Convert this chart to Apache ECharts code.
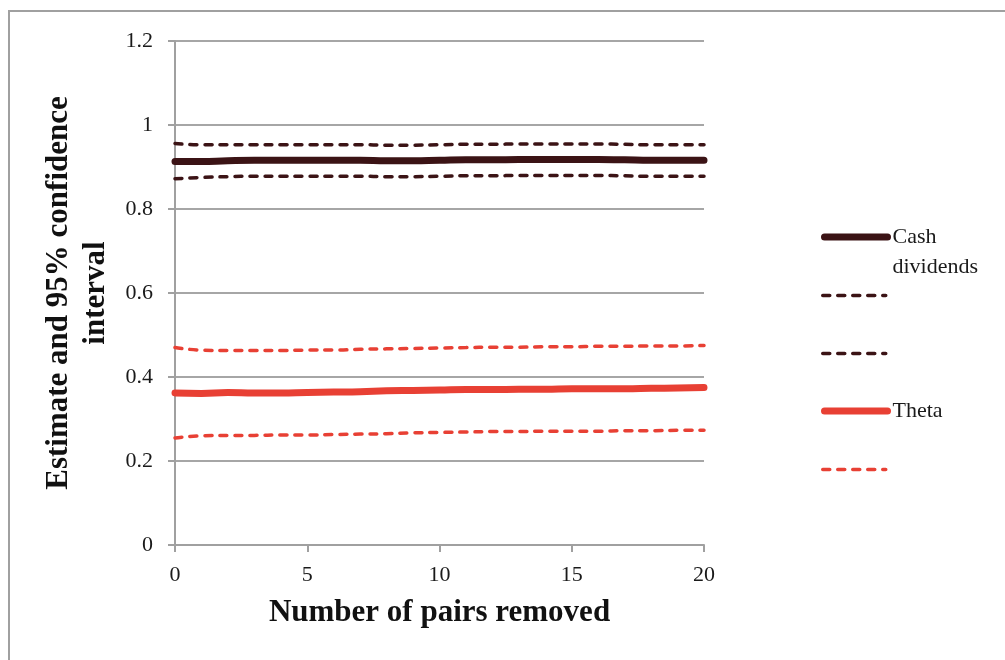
<!DOCTYPE html>
<html>
<head>
<meta charset="utf-8">
<script src="https://cdn.jsdelivr.net/npm/echarts@6/dist/echarts.min.js"></script>
<style>
  html, body { margin: 0; padding: 0; background: #fff; }
  #wrap { position: relative; width: 1005px; height: 660px; overflow: hidden; }
  #frame { position: absolute; left: 8px; top: 10px; width: 1100px; height: 800px;
           border-left: 2px solid #a0a0a0; border-top: 2px solid #a0a0a0; }
  #chart { position: absolute; left: 0; top: 0; width: 1005px; height: 660px; }
</style>
</head>
<body>
<div id="wrap">
  <div id="frame"></div>
  <div id="chart"></div>
</div>
<script>
// number of pairs removed
const pairs = [0, 1, 2, 3, 4, 5, 6, 7, 8, 9, 10, 11, 12, 13, 14, 15, 16, 17, 18, 19, 20];

// cash dividends: estimate and 95% CI
const cashEst   = [0.913, 0.913, 0.915, 0.916, 0.916, 0.916, 0.916, 0.916, 0.915, 0.915, 0.916, 0.917, 0.917, 0.918, 0.918, 0.918, 0.918, 0.917, 0.916, 0.916, 0.916];
const cashUpper = [0.956, 0.953, 0.953, 0.953, 0.953, 0.953, 0.953, 0.953, 0.952, 0.952, 0.953, 0.954, 0.954, 0.955, 0.955, 0.955, 0.955, 0.954, 0.953, 0.953, 0.953];
const cashLower = [0.872, 0.875, 0.877, 0.878, 0.878, 0.878, 0.878, 0.878, 0.877, 0.877, 0.878, 0.879, 0.879, 0.880, 0.880, 0.880, 0.880, 0.879, 0.878, 0.878, 0.878];

// theta: estimate and 95% CI
const thetaEst   = [0.362, 0.361, 0.363, 0.362, 0.362, 0.363, 0.364, 0.365, 0.367, 0.368, 0.369, 0.370, 0.370, 0.371, 0.371, 0.372, 0.372, 0.372, 0.373, 0.374, 0.375];
const thetaUpper = [0.470, 0.464, 0.463, 0.463, 0.463, 0.464, 0.464, 0.466, 0.467, 0.468, 0.469, 0.470, 0.471, 0.471, 0.472, 0.472, 0.473, 0.473, 0.474, 0.474, 0.475];
const thetaLower = [0.255, 0.260, 0.261, 0.261, 0.262, 0.262, 0.263, 0.264, 0.265, 0.267, 0.268, 0.269, 0.270, 0.270, 0.271, 0.271, 0.271, 0.272, 0.272, 0.273, 0.273];

const yTicks = [0, 0.2, 0.4, 0.6, 0.8, 1, 1.2];
const xTicks = [0, 5, 10, 15, 20];

// legend labels (dashed entries have no text); blank first line keeps "Cash" level with its icon
const legendLabels = {
  'Cash dividends': '\u00a0\nCash\ndividends',
  'Cash upper': '',
  'Cash lower': '',
  'Theta': 'Theta',
  'Theta upper': ''
};

const dark = '#3b1315';
const red = '#e84034';
const font = '"Liberation Serif", "DejaVu Serif", serif';

const chart = echarts.init(document.getElementById('chart'));

function pts(arr) {
  return arr.map((v, i) => [pairs[i], v]);
}

function line(name, data, color, solid) {
  return {
    name: name,
    type: 'line',
    data: pts(data),
    smooth: true,
    symbol: 'none',
    silent: true,
    lineStyle: solid
      ? { color: color, width: 7, cap: 'round' }
      : { color: color, width: 3.5, type: [7, 8], cap: 'round' },
    itemStyle: { color: color }
  };
}

function legendAt(name, top, solid, color, extraText) {
  return {
    data: [name],
    left: 821,
    top: top,
    padding: 0,
    itemWidth: 63,
    itemHeight: 14,
    selectedMode: false,
    formatter: n => legendLabels[n],
    itemStyle: { opacity: 0 },
    lineStyle: solid
      ? { color: color, width: 7, cap: 'round', type: 'solid' }
      : { color: color, width: 3.5, cap: 'round', type: [7, 8] },
    textStyle: Object.assign({ fontFamily: font, fontSize: 22, color: '#1a1a1a', lineHeight: 22 }, extraText || {})
  };
}

const option = {
  animation: false,
  grid: { left: 175, right: 301, top: 41, bottom: 115, containLabel: false },
  xAxis: {
    type: 'value',
    min: 0,
    max: 20,
    interval: 5,
    name: 'Number of pairs removed',
    nameLocation: 'middle',
    nameGap: 52,
    nameTextStyle: { fontFamily: font, fontSize: 31, fontWeight: 'bold', color: '#111' },
    axisLine: { show: true, lineStyle: { color: '#a0a0a0', width: 2 } },
    axisTick: { show: true, length: 7, lineStyle: { color: '#a0a0a0', width: 2 } },
    axisLabel: { margin: 19, fontFamily: font, fontSize: 22, color: '#1a1a1a',
                 formatter: v => xTicks.indexOf(v) >= 0 ? String(v) : '' },
    splitLine: { show: false }
  },
  yAxis: {
    type: 'value',
    min: 0,
    max: 1.2,
    interval: 0.2,
    name: 'Estimate and 95% confidence\ninterval',
    nameLocation: 'middle',
    nameGap: 60,
    nameTextStyle: { fontFamily: font, fontSize: 31, fontWeight: 'bold', color: '#111', lineHeight: 37, align: 'center' },
    axisLine: { show: true, lineStyle: { color: '#a0a0a0', width: 2 } },
    axisTick: { show: true, length: 7, lineStyle: { color: '#a0a0a0', width: 2 } },
    axisLabel: { margin: 22, fontFamily: font, fontSize: 22, color: '#1a1a1a',
                 formatter: v => {
                   const t = yTicks.find(k => Math.abs(k - v) < 1e-9);
                   return t === undefined ? '' : String(t);
                 } },
    splitLine: { show: true, lineStyle: { color: '#a6a6a6', width: 2 } }
  },
  legend: [
    legendAt('Cash dividends', 237 - 45, true, dark, { lineHeight: 30 }),
    legendAt('Cash upper', 295 - 5, false, dark),
    legendAt('Cash lower', 353 - 5, false, dark),
    legendAt('Theta', 411 - 11, true, red),
    legendAt('Theta upper', 469 - 5, false, red)
  ],
  series: [
    line('Cash dividends', cashEst, dark, true),
    line('Cash upper', cashUpper, dark, false),
    line('Cash lower', cashLower, dark, false),
    line('Theta', thetaEst, red, true),
    line('Theta upper', thetaUpper, red, false),
    line('Theta lower', thetaLower, red, false)
  ]
};

chart.setOption(option);
</script>
</body>
</html>
